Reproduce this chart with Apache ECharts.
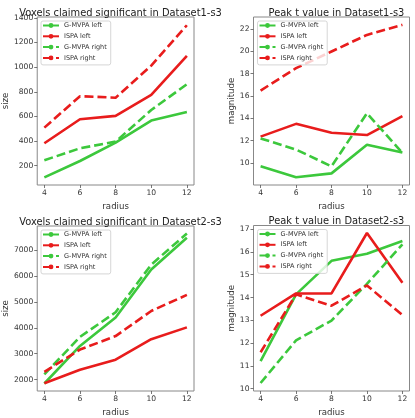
<!DOCTYPE html>
<html>
<head>
<meta charset="utf-8">
<script src="https://cdn.jsdelivr.net/npm/echarts@6.0.0/dist/echarts.min.js"></script>
<style>
html,body{margin:0;padding:0;background:#fff;}
#chart{width:415px;height:418px;}
</style>
</head>
<body>
<div id="chart"></div>
<script>
// ---- data ----
const radius = [4, 6, 8, 10, 12];
const radiusTicks = [4, 6, 8, 10, 12];
const seriesNames = ['G-MVPA left', 'ISPA left', 'G-MVPA right', 'ISPA right'];
const titles = ['Voxels claimed significant in Dataset1-s3', 'Peak t value in Dataset1-s3',
                'Voxels claimed significant in Dataset2-s3', 'Peak t value in Dataset2-s3'];
const yNames = ['size', 'magnitude', 'size', 'magnitude'];
const xName = 'radius';

// Dataset1 size
const d1SizeGmvpaLeft  = [105, 238, 387, 566, 636];
const d1SizeIspaLeft   = [382, 577, 604, 774, 1091];
const d1SizeGmvpaRight = [244, 341, 395, 652, 861];
const d1SizeIspaRight  = [509, 764, 752, 1012, 1340];
const d1SizeTicks = [200, 400, 600, 800, 1000, 1200, 1400];

// Dataset1 peak t
const d1PeakGmvpaLeft  = [9.7, 8.72, 9.07, 11.64, 10.93];
const d1PeakIspaLeft   = [12.36, 13.5, 12.7, 12.5, 14.2];
const d1PeakGmvpaRight = [12.2, 11.2, 9.7, 14.45, 10.9];
const d1PeakIspaRight  = [16.48, 18.48, 19.97, 21.46, 22.36];
const d1PeakTicks = [10, 12, 14, 16, 18, 20, 22];

// Dataset2 size
const d2SizeGmvpaLeft  = [1850, 3300, 4400, 6250, 7480];
const d2SizeIspaLeft   = [1860, 2380, 2770, 3560, 4016];
const d2SizeGmvpaRight = [2200, 3650, 4600, 6440, 7640];
const d2SizeIspaRight  = [2300, 3160, 3680, 4650, 5270];
const d2SizeTicks = [2000, 3000, 4000, 5000, 6000, 7000];

// Dataset2 peak t
const d2PeakGmvpaLeft  = [11.21, 14.14, 15.61, 15.92, 16.48];
const d2PeakIspaLeft   = [13.2, 14.18, 14.18, 16.83, 14.65];
const d2PeakGmvpaRight = [10.25, 12.12, 12.99, 14.6, 16.33];
const d2PeakIspaRight  = [11.6, 14.14, 13.64, 14.53, 13.23];
const d2PeakTicks = [10, 11, 12, 13, 14, 15, 16, 17];

// ---- layout / style ----
const FONT = 'DejaVu Sans';
const GREEN = '#3cc83c';
const RED = '#e81c1c';
const panels = [
  { left: 37, top: 17, width: 157, height: 168, ymin: 43, ymax: 1407, ticks: d1SizeTicks,
    data: [d1SizeGmvpaLeft, d1SizeIspaLeft, d1SizeGmvpaRight, d1SizeIspaRight], nameGap: 23 },
  { left: 253.5, top: 17, width: 156, height: 168, ymin: 8.03, ymax: 23.06, ticks: d1PeakTicks,
    data: [d1PeakGmvpaLeft, d1PeakIspaLeft, d1PeakGmvpaRight, d1PeakIspaRight], nameGap: 15 },
  { left: 37, top: 226, width: 157, height: 167, ymin: 1560, ymax: 7930, ticks: d2SizeTicks,
    data: [d2SizeGmvpaLeft, d2SizeIspaLeft, d2SizeGmvpaRight, d2SizeIspaRight], nameGap: 23 },
  { left: 253.5, top: 225.5, width: 156, height: 167, ymin: 9.9, ymax: 17.16, ticks: d2PeakTicks,
    data: [d2PeakGmvpaLeft, d2PeakIspaLeft, d2PeakGmvpaRight, d2PeakIspaRight], nameGap: 15 }
];
const colors = [GREEN, RED, GREEN, RED];
const dashes = ['solid', 'solid', [9, 4], [9, 4]];

const option = {
  animation: false,
  backgroundColor: '#fff',
  title: [], grid: [], xAxis: [], yAxis: [], legend: [], series: []
};

panels.forEach((p, i) => {
  option.title.push({
    text: titles[i], left: p.left + p.width / 2, top: p.top - 14, textAlign: 'center',
    textStyle: { fontFamily: FONT, fontSize: 9.9, fontWeight: 'normal', color: '#222' }
  });
  option.grid.push({
    left: p.left, top: p.top, width: p.width, height: p.height,
    show: true, borderColor: '#888', borderWidth: 1, backgroundColor: 'transparent'
  });
  option.xAxis.push({
    type: 'value', gridIndex: i, min: 3.6, max: 12.4,
    name: xName, nameLocation: 'middle', nameGap: 17,
    nameTextStyle: { fontFamily: FONT, fontSize: 8.6, color: '#333' },
    axisLine: { show: false },
    axisTick: { show: true, inside: false, length: 3, lineStyle: { color: '#555', width: 0.8 }, customValues: radiusTicks },
    axisLabel: { fontFamily: FONT, fontSize: 7.6, color: '#333', margin: 4, customValues: radiusTicks,
                 formatter: v => String(v) },
    splitLine: { show: false }
  });
  option.yAxis.push({
    type: 'value', gridIndex: i, min: p.ymin, max: p.ymax,
    name: yNames[i], nameLocation: 'middle', nameGap: p.nameGap, nameRotate: 90,
    nameTextStyle: { fontFamily: FONT, fontSize: 8.6, color: '#333' },
    axisLine: { show: false },
    axisTick: { show: true, inside: false, length: 3, lineStyle: { color: '#555', width: 0.8 }, customValues: p.ticks },
    axisLabel: { fontFamily: FONT, fontSize: 7.6, color: '#333', margin: 4, customValues: p.ticks,
                 formatter: v => String(v) },
    splitLine: { show: false }
  });
  option.legend.push({
    orient: 'vertical', left: p.left + 4, top: p.top + 4,
    data: seriesNames,
    itemWidth: 16, itemHeight: 6, itemGap: 3.8,
    padding: [1, 4, 3.5, 1],
    borderColor: '#ccc', borderWidth: 0.8, borderRadius: 2,
    backgroundColor: 'rgba(255,255,255,0.8)',
    selectedMode: false,
    textStyle: { fontFamily: FONT, fontSize: 6.5, color: '#333' }
  });
  seriesNames.forEach((name, k) => {
    option.series.push({
      type: 'line', name: name, xAxisIndex: i, yAxisIndex: i,
      data: radius.map((r, j) => [r, p.data[k][j]]),
      symbol: 'none', showSymbol: false,
      color: colors[k],
      lineStyle: { color: colors[k], width: 2.6, type: dashes[k], cap: 'butt' },
      z: 2
    });
  });
});

const chart = echarts.init(document.getElementById('chart'), null, { renderer: 'canvas' });
chart.setOption(option);
</script>
</body>
</html>
